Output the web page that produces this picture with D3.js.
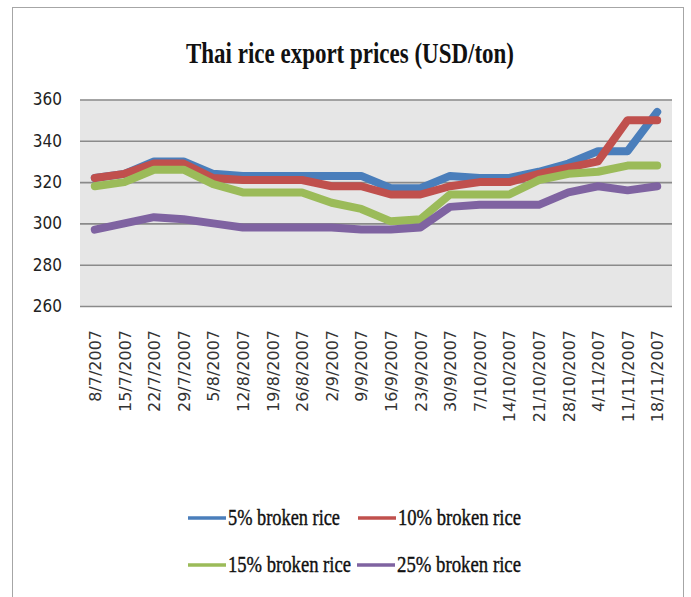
<!DOCTYPE html>
<html>
<head>
<meta charset="utf-8">
<script src="https://cdn.jsdelivr.net/npm/d3@7"></script>
<style>
  body { margin: 0; background: #fff; }
  svg { display: block; }
  .serif { font-family: "Liberation Serif", "Times New Roman", "DejaVu Serif", serif; }
</style>
</head>
<body>
<svg width="691" height="597"></svg>
<script>
// weekly dates on the category axis
var dates = ["8/7/2007", "15/7/2007", "22/7/2007", "29/7/2007", "5/8/2007", "12/8/2007",
  "19/8/2007", "26/8/2007", "2/9/2007", "9/9/2007", "16/9/2007", "23/9/2007", "30/9/2007",
  "7/10/2007", "14/10/2007", "21/10/2007", "28/10/2007", "4/11/2007", "11/11/2007", "18/11/2007"];

// prices (USD/ton)
var broken5 = [322, 324, 330, 330, 324, 323, 323, 323, 323, 323, 317, 317, 323, 322, 322, 325, 329, 335, 335, 354];
var broken10 = [322, 324, 329, 329, 322, 321, 321, 321, 318, 318, 314, 314, 318, 320, 320, 324, 327, 330, 350, 350];
var broken15 = [318, 320, 326, 326, 319, 315, 315, 315, 310, 307, 301, 302, 314, 314, 314, 321, 324, 325, 328, 328];
var broken25 = [297, 300, 303, 302, 300, 298, 298, 298, 298, 297, 297, 298, 308, 309, 309, 309, 315, 318, 316, 318];

var seriesNames = ["5% broken rice", "10% broken rice", "15% broken rice", "25% broken rice"];
var seriesValues = [broken5, broken10, broken15, broken25];
var colors = ["#4a7ebb", "#c0504d", "#9bbb59", "#7f63a1"];
var yTicks = [260, 280, 300, 320, 340, 360];

var svg = d3.select("svg");

// outer chart frame
svg.append("rect")
    .attr("x", 12.5).attr("y", 7.5)
    .attr("width", 671).attr("height", 610)
    .attr("fill", "#fff")
    .attr("stroke", "#a6a6a6");

var plot = {left: 80, right: 672, top: 99.5, bottom: 306};

var x = d3.scalePoint().domain(dates).range([plot.left, plot.right]).padding(0.5);
var y = d3.scaleLinear().domain([260, 360]).range([plot.bottom, plot.top]);

// grey plot background
svg.append("rect")
    .attr("x", plot.left).attr("y", plot.top)
    .attr("width", plot.right - plot.left).attr("height", plot.bottom - plot.top)
    .attr("fill", "#e6e6e6");

// y axis with gridlines
var yAxis = svg.append("g")
    .attr("transform", "translate(" + plot.left + ",0)")
    .call(d3.axisLeft(y).tickValues(yTicks).tickSize(-(plot.right - plot.left)).tickPadding(18));
yAxis.select(".domain").remove();
yAxis.selectAll("line").attr("stroke", "#8a8a8a").attr("stroke-width", 1.6);
yAxis.selectAll("text")
    .attr("fill", "#222")
    .style("font-family", "'DejaVu Sans Condensed', 'DejaVu Sans', sans-serif")
    .style("font-size", "17px");

// x axis, labels turned upright
var xAxis = svg.append("g")
    .attr("transform", "translate(0,330)")
    .call(d3.axisBottom(x).tickSize(0).tickPadding(0));
xAxis.select(".domain").remove();
xAxis.selectAll("text")
    .attr("transform", "rotate(-90)")
    .attr("x", 0).attr("y", 0)
    .attr("dy", "0.35em")
    .attr("text-anchor", "end")
    .attr("fill", "#333")
    .style("font-family", "'DejaVu Sans', sans-serif")
    .style("font-size", "16px");

// the four price lines
var line = d3.line()
    .x(function(d, i) { return x(dates[i]); })
    .y(function(d) { return y(d); });

svg.selectAll(".series")
    .data(seriesValues)
    .enter().append("path")
      .attr("class", "series")
      .attr("d", line)
      .attr("fill", "none")
      .attr("stroke", function(d, i) { return colors[i]; })
      .attr("stroke-width", 8)
      .attr("stroke-linejoin", "round")
      .attr("stroke-linecap", "round");

// title
svg.append("text")
    .attr("class", "serif")
    .attr("x", 186).attr("y", 63)
    .attr("textLength", 328)
    .attr("lengthAdjust", "spacingAndGlyphs")
    .attr("fill", "#111")
    .style("font-size", "30px")
    .style("font-weight", "bold")
    .text("Thai rice export prices (USD/ton)");

// legend, two rows of two
var legendPos = [
  {x: 188, y: 518, w: 112},
  {x: 358, y: 518, w: 123},
  {x: 188, y: 565, w: 123},
  {x: 357, y: 565, w: 124}
];
var legend = svg.selectAll(".legend")
    .data(seriesNames)
    .enter().append("g")
      .attr("class", "legend")
      .attr("transform", function(d, i) { return "translate(" + legendPos[i].x + "," + legendPos[i].y + ")"; });

legend.append("line")
    .attr("x1", 0).attr("x2", 38)
    .attr("stroke", function(d, i) { return colors[i]; })
    .attr("stroke-width", 3.5);

legend.append("text")
    .attr("class", "serif")
    .attr("x", 40).attr("y", 7)
    .attr("textLength", function(d, i) { return legendPos[i].w; })
    .attr("lengthAdjust", "spacingAndGlyphs")
    .attr("fill", "#111")
    .attr("stroke", "#111").attr("stroke-width", 0.4)
    .style("font-size", "23px")
    .text(function(d) { return d; });
</script>
</body>
</html>
